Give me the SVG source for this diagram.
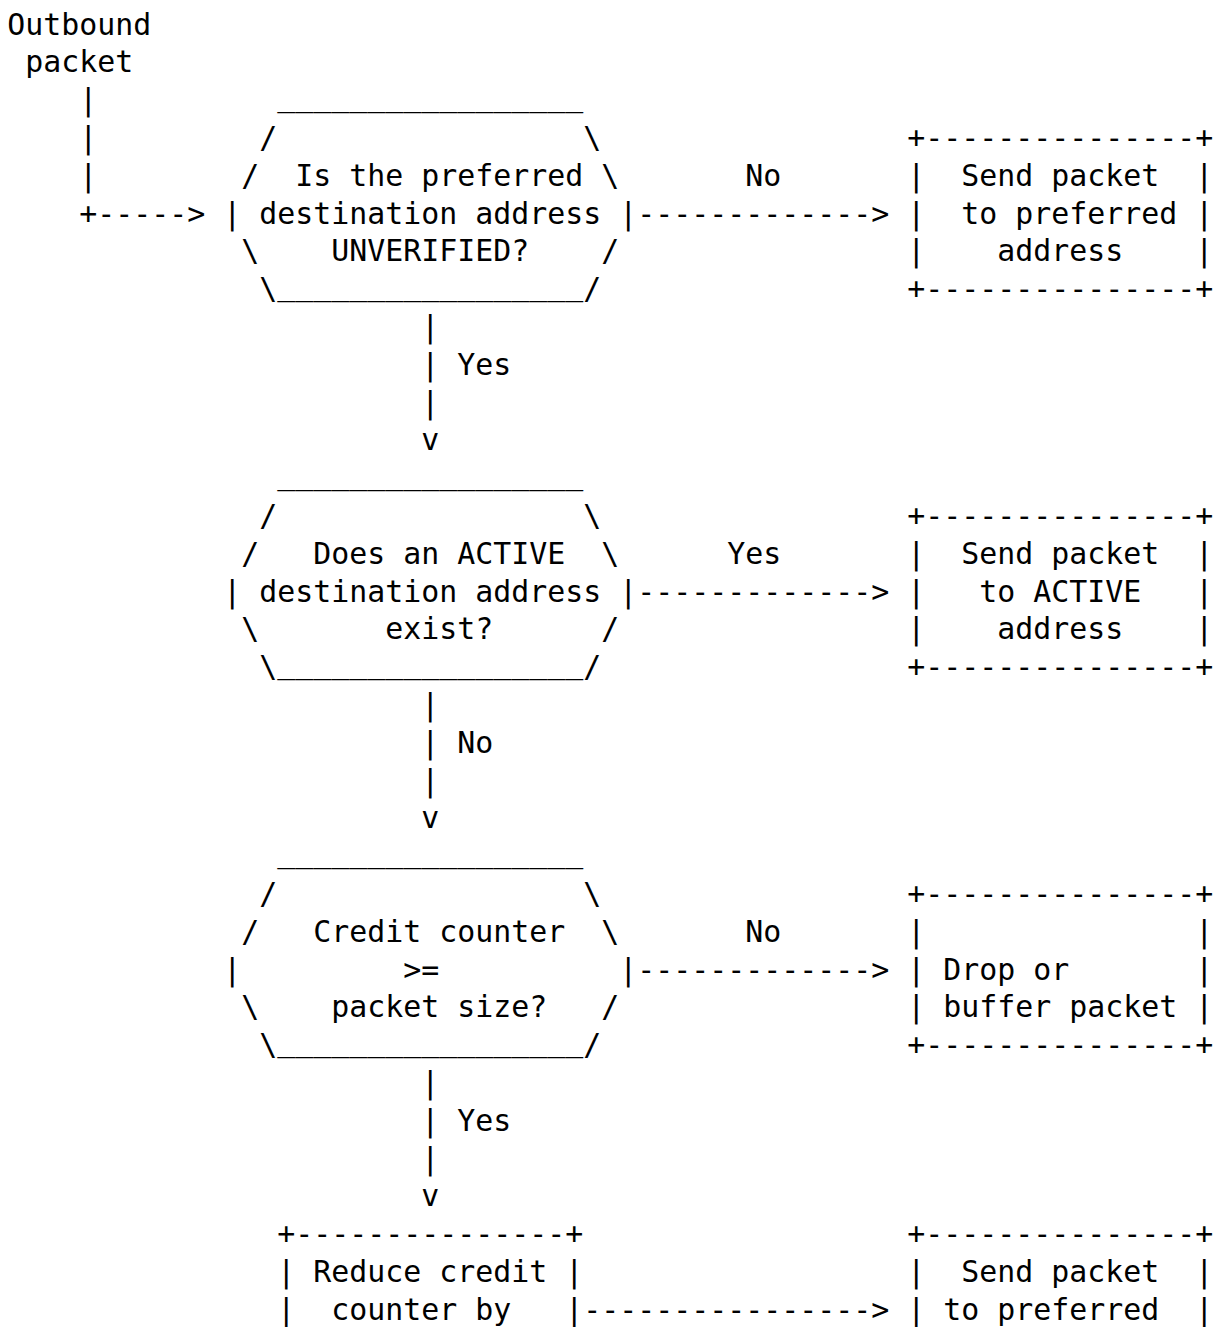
<svg xmlns="http://www.w3.org/2000/svg" width="1223" height="1327" viewBox="0 0 1223 1327">
<style>
text{font-family:"DejaVu Sans Mono","Liberation Mono",monospace;font-size:29.9px;fill:#000;white-space:pre}
</style>
<rect width="1223" height="1327" fill="#fff"/>
<g id="start">
<text x="7.3" y="34.5" xml:space="preserve">Outbound</text>
<text x="25.3" y="72.3" xml:space="preserve">packet</text>
</g>
<g id="decision1">
<text x="277.3" y="106" xml:space="preserve">_________________</text>
<text x="259.3" y="147.9" xml:space="preserve">/                 \</text>
<text x="241.3" y="185.7" xml:space="preserve">/  Is the preferred \</text>
<text x="223.3" y="223.5" xml:space="preserve">| destination address |</text>
<text x="241.3" y="261.3" xml:space="preserve">\    UNVERIFIED?    /</text>
<text x="259.3" y="299.1" xml:space="preserve">\<tspan dy="-4">_________________</tspan><tspan dy="4">/</tspan></text>
</g>
<g id="box1">
<text x="907.3" y="147.9" xml:space="preserve">+---------------+</text>
<text x="907.3" y="185.7" xml:space="preserve">|  Send packet  |</text>
<text x="907.3" y="223.5" xml:space="preserve">|  to preferred |</text>
<text x="907.3" y="261.3" xml:space="preserve">|    address    |</text>
<text x="907.3" y="299.1" xml:space="preserve">+---------------+</text>
</g>
<g id="decision2">
<text x="277.3" y="484" xml:space="preserve">_________________</text>
<text x="259.3" y="525.9" xml:space="preserve">/                 \</text>
<text x="241.3" y="563.7" xml:space="preserve">/   Does an ACTIVE  \</text>
<text x="223.3" y="601.5" xml:space="preserve">| destination address |</text>
<text x="241.3" y="639.3" xml:space="preserve">\       exist?      /</text>
<text x="259.3" y="677.1" xml:space="preserve">\<tspan dy="-4">_________________</tspan><tspan dy="4">/</tspan></text>
</g>
<g id="box2">
<text x="907.3" y="525.9" xml:space="preserve">+---------------+</text>
<text x="907.3" y="563.7" xml:space="preserve">|  Send packet  |</text>
<text x="907.3" y="601.5" xml:space="preserve">|   to ACTIVE   |</text>
<text x="907.3" y="639.3" xml:space="preserve">|    address    |</text>
<text x="907.3" y="677.1" xml:space="preserve">+---------------+</text>
</g>
<g id="decision3">
<text x="277.3" y="862" xml:space="preserve">_________________</text>
<text x="259.3" y="903.9" xml:space="preserve">/                 \</text>
<text x="241.3" y="941.7" xml:space="preserve">/   Credit counter  \</text>
<text x="223.3" y="979.5" xml:space="preserve">|         &gt;=          |</text>
<text x="241.3" y="1017.3" xml:space="preserve">\    packet size?   /</text>
<text x="259.3" y="1055.1" xml:space="preserve">\<tspan dy="-4">_________________</tspan><tspan dy="4">/</tspan></text>
</g>
<g id="box3">
<text x="907.3" y="903.9" xml:space="preserve">+---------------+</text>
<text x="907.3" y="941.7" xml:space="preserve">|               |</text>
<text x="907.3" y="979.5" xml:space="preserve">| Drop or       |</text>
<text x="907.3" y="1017.3" xml:space="preserve">| buffer packet |</text>
<text x="907.3" y="1055.1" xml:space="preserve">+---------------+</text>
</g>
<g id="box4">
<text x="277.3" y="1244.1" xml:space="preserve">+---------------+</text>
<text x="277.3" y="1281.9" xml:space="preserve">| Reduce credit |</text>
<text x="277.3" y="1319.7" xml:space="preserve">|  counter by   |</text>
</g>
<g id="box5">
<text x="907.3" y="1244.1" xml:space="preserve">+---------------+</text>
<text x="907.3" y="1281.9" xml:space="preserve">|  Send packet  |</text>
<text x="907.3" y="1319.7" xml:space="preserve">| to preferred  |</text>
</g>
<g id="connectors">
<text x="79.3" y="110.1" xml:space="preserve">|</text>
<text x="79.3" y="147.9" xml:space="preserve">|</text>
<text x="79.3" y="185.7" xml:space="preserve">|</text>
<text x="79.3" y="223.5" xml:space="preserve">+-----&gt;</text>
<text x="745.3" y="185.7" xml:space="preserve">No</text>
<text x="637.3" y="223.5" xml:space="preserve">-------------&gt;</text>
<text x="421.3" y="337.0" xml:space="preserve">|</text>
<text x="421.3" y="374.7" xml:space="preserve">| Yes</text>
<text x="421.3" y="412.5" xml:space="preserve">|</text>
<text x="421.3" y="450.3" xml:space="preserve">v</text>
<text x="727.3" y="563.7" xml:space="preserve">Yes</text>
<text x="637.3" y="601.5" xml:space="preserve">-------------&gt;</text>
<text x="421.3" y="714.9" xml:space="preserve">|</text>
<text x="421.3" y="752.7" xml:space="preserve">| No</text>
<text x="421.3" y="790.5" xml:space="preserve">|</text>
<text x="421.3" y="828.3" xml:space="preserve">v</text>
<text x="745.3" y="941.7" xml:space="preserve">No</text>
<text x="637.3" y="979.5" xml:space="preserve">-------------&gt;</text>
<text x="421.3" y="1092.9" xml:space="preserve">|</text>
<text x="421.3" y="1130.7" xml:space="preserve">| Yes</text>
<text x="421.3" y="1168.5" xml:space="preserve">|</text>
<text x="421.3" y="1206.3" xml:space="preserve">v</text>
<text x="583.3" y="1319.7" xml:space="preserve">----------------&gt;</text>
</g>
</svg>
